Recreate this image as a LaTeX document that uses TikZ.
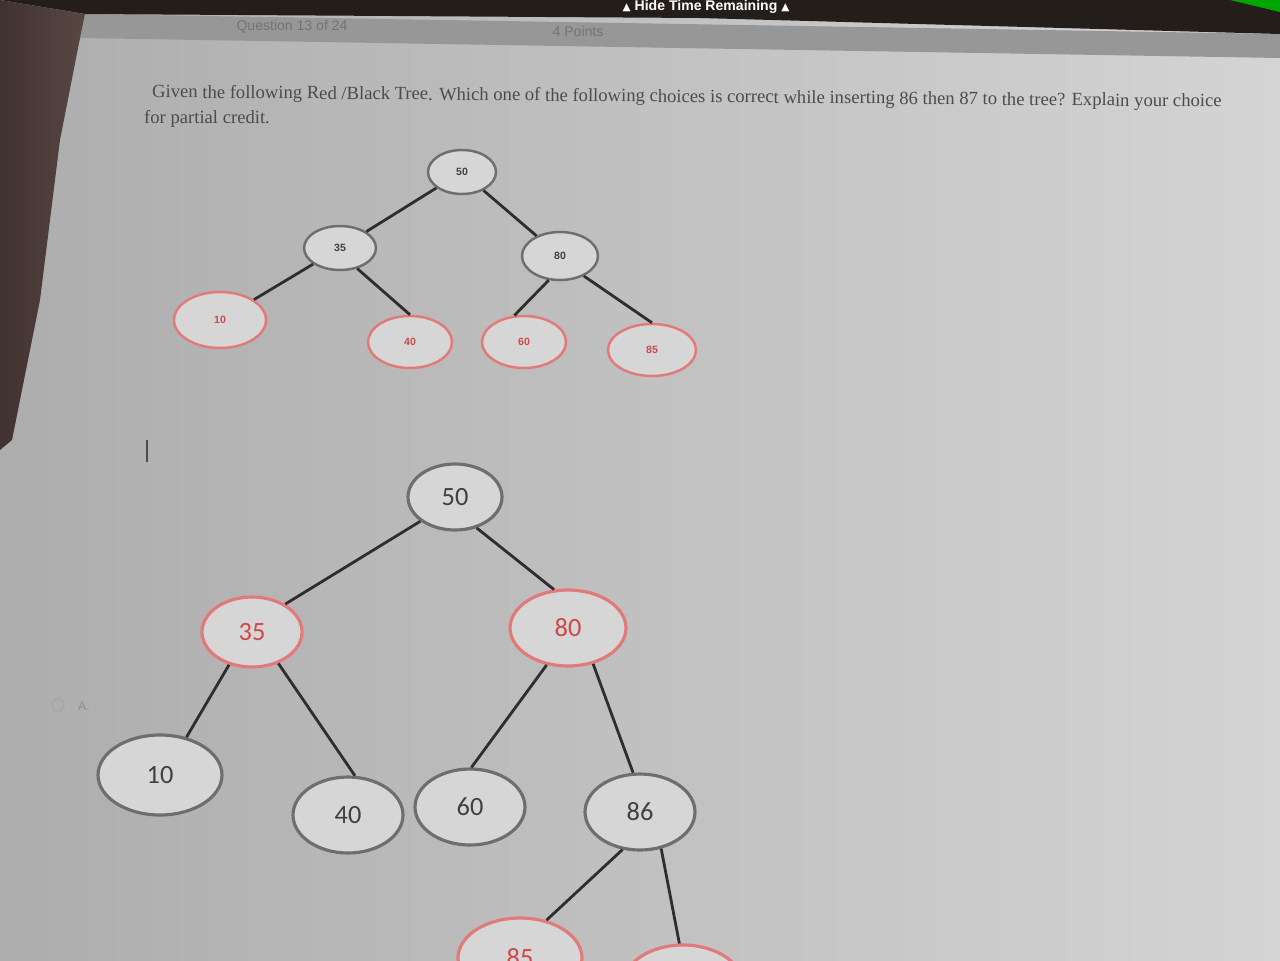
\documentclass[tikz,border=0pt]{standalone}
\usepackage{fontspec}
\usetikzlibrary{shapes.geometric}
\setmainfont{Liberation Serif}
\newfontfamily\uisans{Liberation Sans}
\newfontfamily\symfont{DejaVu Sans}
\newfontfamily\labelfont{Carlito}
\definecolor{screenA}{HTML}{ADADAD}
\definecolor{screenB}{HTML}{D4D4D4}
\definecolor{barcol}{HTML}{979797}
\definecolor{bezel}{HTML}{241E1B}
\definecolor{handcol}{HTML}{5A4744}
\definecolor{blackring}{HTML}{6E6E6E}
\definecolor{redring}{HTML}{E27A7A}
\definecolor{redtext}{HTML}{D04848}
\definecolor{edgecol}{HTML}{2E2E2E}
\definecolor{nodefill}{HTML}{D6D6D6}
\begin{document}
\begin{tikzpicture}[x=0.02cm,y=-0.02cm,
  rbnode/.style={ellipse,inner sep=0pt,fill=nodefill,line width=1.4pt},
  blknode/.style={rbnode,draw=blackring,text=black!75},
  rednode/.style={rbnode,draw=redring,text=redtext},
  small/.style={font=\uisans\bfseries\fontsize{6}{6}\selectfont},
  big/.style={font=\labelfont\fontsize{15}{15}\selectfont,line width=1.8pt},
  edge/.style={draw=edgecol,line width=1.6pt}]
\useasboundingbox (0,0) rectangle (1280,960);
\clip (0,0) rectangle (1280,960);
% screen background
\shade[left color=screenA,right color=screenB] (0,0) rectangle (1280,960);
% header bar and dark top band
\fill[barcol] (85,14) -- (1280,34) -- (1280,58) -- (80,38) -- cycle;
\fill[bezel] (0,0) -- (1280,0) -- (1280,34) -- (700,18) -- (85,14) -- cycle;
\fill[green!65!black] (1230,0) -- (1280,0) -- (1280,12) -- cycle;
% frame edge on the left
\shade[left color=handcol!70!black,right color=handcol] (0,0) -- (85,14) -- (80,38) -- (60,140)
  -- (40,300) -- (12,440) -- (0,450) -- cycle;
% header
\node[font=\uisans\bfseries\fontsize{8}{8}\selectfont,text=white!90] (timer) at (706,7)
  {{\symfont\fontsize{6}{6}\selectfont▲} Hide Time Remaining {\symfont\fontsize{6}{6}\selectfont▲}};
\node[font=\uisans\fontsize{8}{8}\selectfont,text=black!55] (qnum) at (292,27) {Question 13 of 24};
\node[font=\uisans\fontsize{8}{8}\selectfont,text=black!55] (pts) at (578,31) {4 Points};
% question text
\node[anchor=west,rotate=-0.5,font=\fontsize{10.6}{10.6}\selectfont,text=black!70] (q1) at (146,93)
  {Given the following Red /Black Tree. Which one of the following choices is correct while inserting 86 then 87 to the tree? Explain your choice};
\node[anchor=west,font=\fontsize{10.6}{10.6}\selectfont,text=black!70] (q2) at (138,119) {for partial credit.};
% given tree
\node[blknode,small,minimum width=1.36cm,minimum height=0.88cm] (t50) at (462,172) {50};
\node[blknode,small,minimum width=1.44cm,minimum height=0.88cm] (t35) at (340,248) {35};
\node[blknode,small,minimum width=1.52cm,minimum height=0.96cm] (t80) at (560,256) {80};
\node[rednode,small,minimum width=1.84cm,minimum height=1.12cm] (t10) at (220,320) {10};
\node[rednode,small,minimum width=1.68cm,minimum height=1.04cm] (t40) at (410,342) {40};
\node[rednode,small,minimum width=1.68cm,minimum height=1.04cm] (t60) at (524,342) {60};
\node[rednode,small,minimum width=1.76cm,minimum height=1.04cm] (t85) at (652,350) {85};
\draw[edge] (t50) -- (t35);
\draw[edge] (t50) -- (t80);
\draw[edge] (t35) -- (t10);
\draw[edge] (t35.-50) -- (t40.north);
\draw[edge] (t80.-115) -- (t60.110);
\draw[edge] (t80.-40) -- (t85.north);
% cursor mark
\draw[black!70,line width=1.2pt] (147,440) -- (147,462);
% choice A
\draw[black!35,line width=0.8pt] (58,705) circle (6);
\node[font=\uisans\fontsize{7}{7}\selectfont,text=black!45] (optA) at (84,706) {A.};
% answer tree A
\node[blknode,big,minimum width=1.88cm,minimum height=1.32cm] (a50) at (455,497) {50};
\node[rednode,big,minimum width=2.0cm,minimum height=1.4cm] (a35) at (252,632) {35};
\node[rednode,big,minimum width=2.32cm,minimum height=1.52cm] (a80) at (568,628) {80};
\node[blknode,big,minimum width=2.48cm,minimum height=1.6cm] (a10) at (160,775) {10};
\node[blknode,big,minimum width=2.2cm,minimum height=1.52cm] (a40) at (348,815) {40};
\node[blknode,big,minimum width=2.2cm,minimum height=1.52cm] (a60) at (470,807) {60};
\node[blknode,big,minimum width=2.2cm,minimum height=1.52cm] (a86) at (640,812) {86};
\node[rednode,big,minimum width=2.48cm,minimum height=1.6cm] (a85) at (520,958) {85};
\node[rednode,big,minimum width=2.4cm,minimum height=1.6cm] (a87) at (683,985) {};
\draw[edge] (a50.215) -- (a35.40);
\draw[edge] (a50.-55) -- (a80.110);
\draw[edge] (a35.235) -- (a10.55);
\draw[edge] (a35.-50) -- (a40.80);
\draw[edge] (a80.-120) -- (a60.88);
\draw[edge] (a80.-55) -- (a86.100);
\draw[edge] (a86.-115) -- (a85.55);
\draw[edge] (a86.-60) -- (a87.95);
\end{tikzpicture}
\end{document}
